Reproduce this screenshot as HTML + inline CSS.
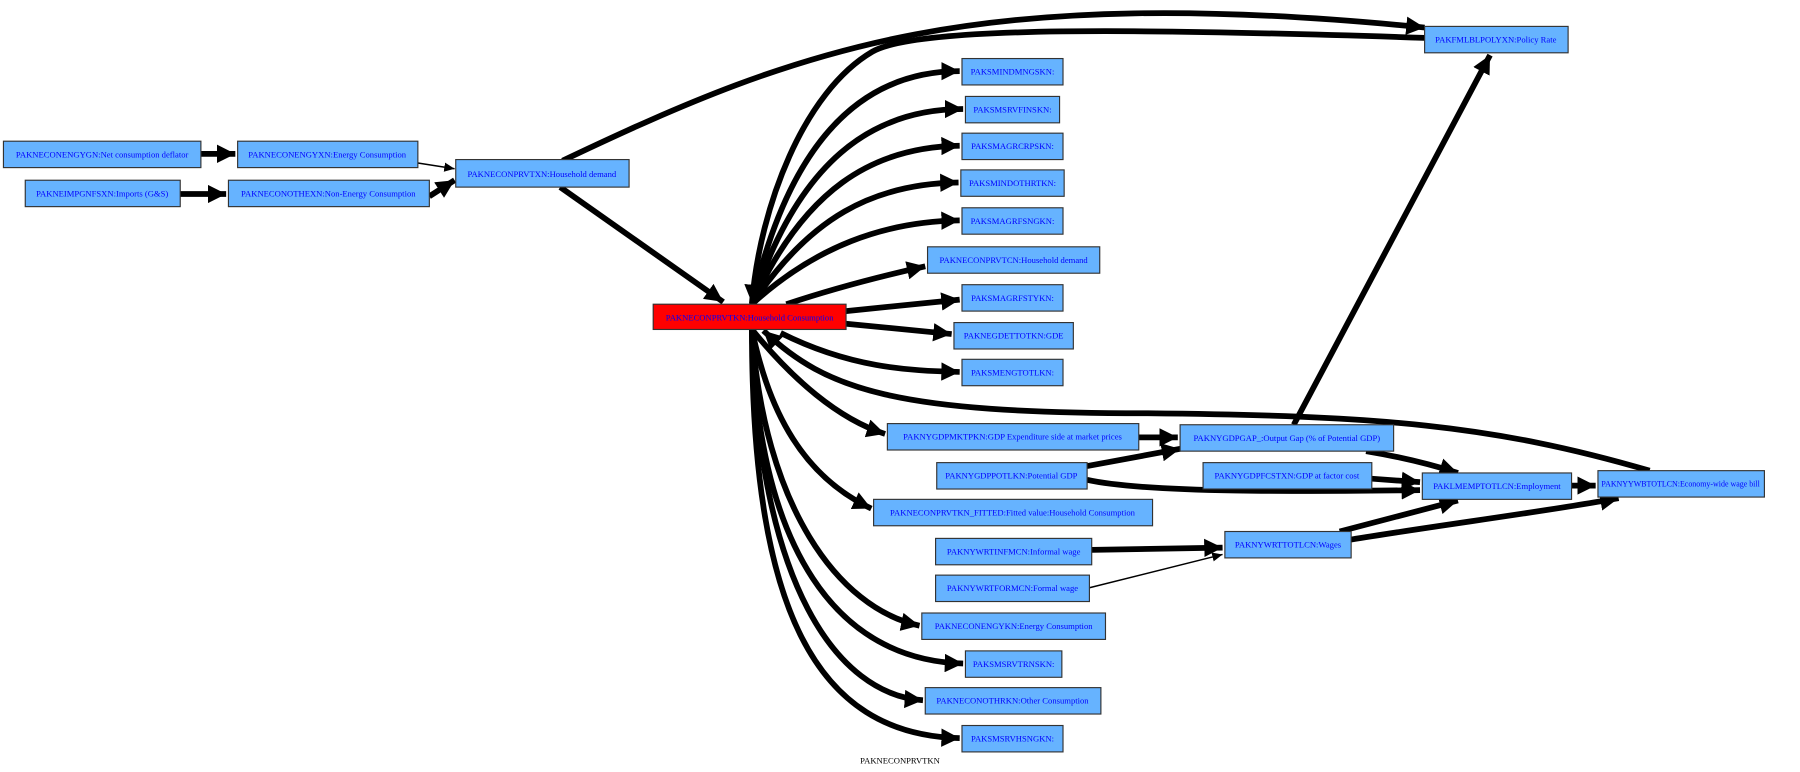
<!DOCTYPE html>
<html><head><meta charset="utf-8"><style>html,body{margin:0;padding:0;background:#fff}svg{display:block}</style></head>
<body>
<svg width="1800" height="772" viewBox="0 0 1568 672.5" xmlns="http://www.w3.org/2000/svg">
<defs>
<marker id="a" markerUnits="userSpaceOnUse" markerWidth="18" markerHeight="16" refX="16" refY="8" orient="auto"><path d="M0,0 L16,8 L0,16 z" fill="#000"/></marker>
<marker id="s" markerUnits="userSpaceOnUse" markerWidth="10" markerHeight="8" refX="9" refY="4" orient="auto"><path d="M0,0 L9,4 L0,8 z" fill="#000"/></marker>
</defs>
<g fill="none" stroke="#000" stroke-width="5">
<path d="M175,134 L205,134" marker-end="url(#a)"/>
<path d="M157,169 L197,169" marker-end="url(#a)"/>
<path d="M364,142 L396,147" stroke-width="1.3" marker-end="url(#s)"/>
<path d="M374,171 L396,157" marker-end="url(#a)"/>
<path d="M488,163 L630,263" marker-end="url(#a)"/>
<path d="M490,140 C 700,40 850,-15 1241,24" marker-end="url(#a)"/>
<path d="M1241,33 C 1000,25 800,22 760,45 C 700,80 662,180 655,264" marker-end="url(#a)"/>
<path d="M655,265 C 690,110 760,62 836,62" marker-end="url(#a)"/>
<path d="M655,265 C 695,140 760,95 839,95" marker-end="url(#a)"/>
<path d="M655,265 C 700,165 760,128 836,127" marker-end="url(#a)"/>
<path d="M655,265 C 705,190 760,160 835,159" marker-end="url(#a)"/>
<path d="M655,265 C 710,215 770,193 836,192" marker-end="url(#a)"/>
<path d="M685,265 C 730,250 770,240 806,232" marker-end="url(#a)"/>
<path d="M737,271 L836,261" marker-end="url(#a)"/>
<path d="M737,282 L829,291" marker-end="url(#a)"/>
<path d="M680,290 C 740,320 790,323 836,324" marker-end="url(#a)"/>
<path d="M1437,410 C 1300,370 1200,362 1000,360 C 780,360 720,340 665,288" marker-end="url(#a)"/>
<path d="M655,287 C 690,330 730,365 771,378" marker-end="url(#a)"/>
<path d="M655,287 C 670,360 700,415 759,443" marker-end="url(#a)"/>
<path d="M655,287 C 665,440 730,530 801,545" marker-end="url(#a)"/>
<path d="M655,287 C 660,480 730,575 839,578" marker-end="url(#a)"/>
<path d="M655,287 C 660,510 730,605 804,610" marker-end="url(#a)"/>
<path d="M655,287 C 655,530 710,640 836,643" marker-end="url(#a)"/>
<path d="M992,381 L1026,381" marker-end="url(#a)"/>
<path d="M1127,370 L1298,48" marker-end="url(#a)"/>
<path d="M947,406 L1028,391" marker-end="url(#a)"/>
<path d="M947,418 C 1000,430 1150,428 1237,427" marker-end="url(#a)"/>
<path d="M1195,417 L1237,420" marker-end="url(#a)"/>
<path d="M1190,393 C 1220,398 1245,404 1270,412" marker-end="url(#a)"/>
<path d="M1369,423 L1390,423" marker-end="url(#a)"/>
<path d="M951,479 L1065,477" marker-end="url(#a)"/>
<path d="M949,512 L1065,483" stroke-width="1.3" marker-end="url(#s)"/>
<path d="M1167,463 L1270,436" marker-end="url(#a)"/>
<path d="M1177,470 C 1250,458 1350,445 1410,434" marker-end="url(#a)"/>
</g>
<g stroke="#333" stroke-width="1" fill="#66b3ff">
<rect x="3" y="123" width="172" height="23"/>
<rect x="22" y="157" width="135" height="23"/>
<rect x="207" y="123" width="157" height="23"/>
<rect x="199" y="157" width="175" height="23"/>
<rect x="397" y="139" width="151" height="24"/>
<rect x="569" y="265" width="168" height="22" fill="#ff0000"/>
<rect x="1241" y="23" width="125" height="23"/>
<rect x="838" y="51" width="88" height="23"/>
<rect x="841" y="84" width="82" height="23"/>
<rect x="838" y="116" width="88" height="23"/>
<rect x="837" y="148" width="90" height="23"/>
<rect x="838" y="181" width="88" height="23"/>
<rect x="808" y="215" width="150" height="23"/>
<rect x="838" y="248" width="88" height="23"/>
<rect x="831" y="281" width="104" height="23"/>
<rect x="838" y="313" width="88" height="23"/>
<rect x="773" y="369" width="219" height="23"/>
<rect x="1028" y="370" width="186" height="23"/>
<rect x="816" y="403" width="131" height="23"/>
<rect x="1048" y="403" width="147" height="23"/>
<rect x="1239" y="412" width="130" height="23"/>
<rect x="1392" y="410" width="145" height="23"/>
<rect x="761" y="435" width="243" height="23"/>
<rect x="815" y="469" width="136" height="23"/>
<rect x="1067" y="463" width="110" height="23"/>
<rect x="815" y="501" width="134" height="23"/>
<rect x="803" y="534" width="160" height="23"/>
<rect x="841" y="567" width="84" height="23"/>
<rect x="806" y="599" width="153" height="23"/>
<rect x="838" y="632" width="88" height="23"/>
</g>
<g font-family="Liberation Serif, serif" font-size="7.5" fill="#0000ff" text-anchor="middle">
<text x="89" y="137">PAKNECONENGYGN:Net consumption deflator</text>
<text x="89" y="171">PAKNEIMPGNFSXN:Imports (G&amp;S)</text>
<text x="285" y="137">PAKNECONENGYXN:Energy Consumption</text>
<text x="286" y="171">PAKNECONOTHEXN:Non-Energy Consumption</text>
<text x="472" y="154">PAKNECONPRVTXN:Household demand</text>
<text x="653" y="279">PAKNECONPRVTKN:Household Consumption</text>
<text x="1303" y="37">PAKFMLBLPOLYXN:Policy Rate</text>
<text x="882" y="65">PAKSMINDMNGSKN:</text>
<text x="882" y="98">PAKSMSRVFINSKN:</text>
<text x="882" y="130">PAKSMAGRCRPSKN:</text>
<text x="882" y="162">PAKSMINDOTHRTKN:</text>
<text x="882" y="195">PAKSMAGRFSNGKN:</text>
<text x="883" y="229">PAKNECONPRVTCN:Household demand</text>
<text x="882" y="262">PAKSMAGRFSTYKN:</text>
<text x="883" y="295">PAKNEGDETTOTKN:GDE</text>
<text x="882" y="327">PAKSMENGTOTLKN:</text>
<text x="882" y="383">PAKNYGDPMKTPKN:GDP Expenditure side at market prices</text>
<text x="1121" y="384">PAKNYGDPGAP_:Output Gap (% of Potential GDP)</text>
<text x="881" y="417">PAKNYGDPPOTLKN:Potential GDP</text>
<text x="1121" y="417">PAKNYGDPFCSTXN:GDP at factor cost</text>
<text x="1304" y="426">PAKLMEMPTOTLCN:Employment</text>
<text x="1464" y="424" textLength="138" lengthAdjust="spacingAndGlyphs">PAKNYYWBTOTLCN:Economy-wide wage bill</text>
<text x="882" y="449">PAKNECONPRVTKN_FITTED:Fitted value:Household Consumption</text>
<text x="883" y="483">PAKNYWRTINFMCN:Informal wage</text>
<text x="1122" y="477">PAKNYWRTTOTLCN:Wages</text>
<text x="882" y="515">PAKNYWRTFORMCN:Formal wage</text>
<text x="883" y="548">PAKNECONENGYKN:Energy Consumption</text>
<text x="883" y="581">PAKSMSRVTRNSKN:</text>
<text x="882" y="613">PAKNECONOTHRKN:Other Consumption</text>
<text x="882" y="646">PAKSMSRVHSNGKN:</text>
<text x="784" y="665" fill="#000">PAKNECONPRVTKN</text>
</g>
</svg>
</body></html>
